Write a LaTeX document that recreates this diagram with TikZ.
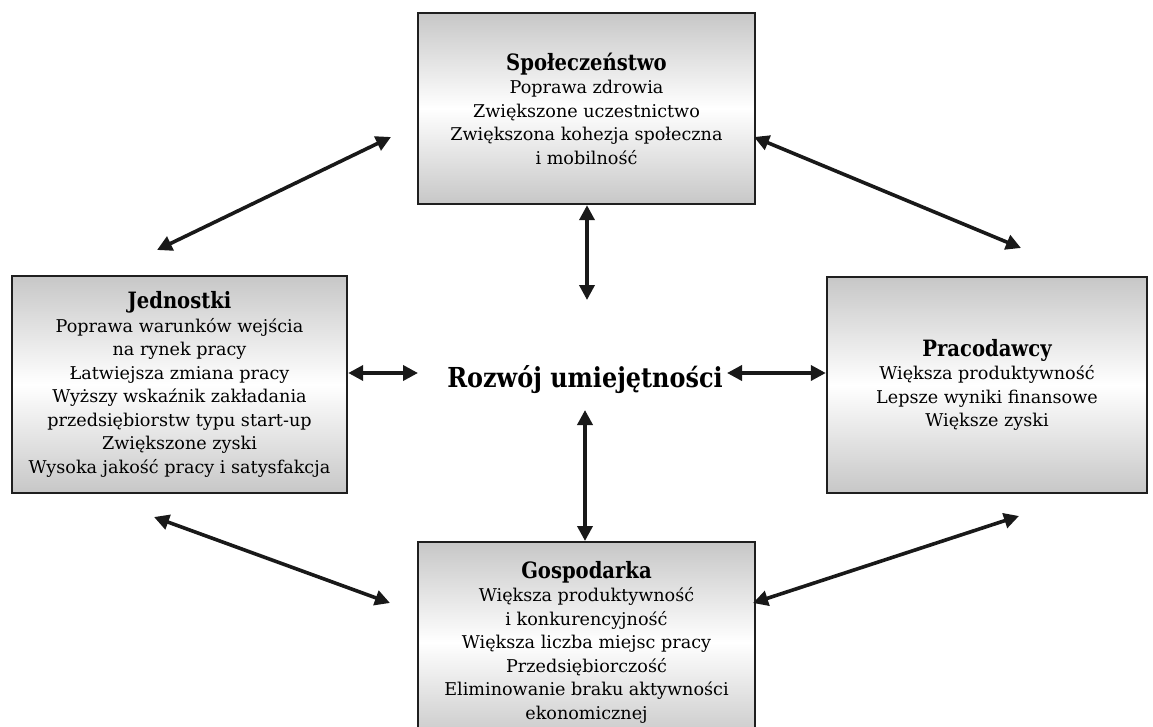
\documentclass[tikz,border=0pt]{standalone}
\usepackage{fontspec}
\setmainfont{DejaVu Serif}[BoldFeatures={FakeStretch=0.87}]
\usetikzlibrary{arrows.meta}
\begin{document}
\begin{tikzpicture}[x=1pt,y=-1pt,
  panel/.style={draw=black!88, line width=2.4pt, rectangle, inner sep=0pt,
    top color=black!22, bottom color=black!22, middle color=white,
    align=center, font=\fontsize{17.6}{23.5}\selectfont},
  link/.style={line width=3.6pt, draw=black!90,
    {Triangle[length=15pt,width=15pt]}-{Triangle[length=15pt,width=15pt]}}
]
\newcommand{\hd}[1]{{\bfseries\fontsize{22.5}{25}\selectfont #1}}
\useasboundingbox (0,0) rectangle (1153,727);
\begin{scope}
\clip (0,0) rectangle (1153,727);

\node[panel, minimum width=337pt, minimum height=191pt] (T) at (586.5,108.5)
  {\hd{Społeczeństwo}\\
   Poprawa zdrowia\\Zwiększone uczestnictwo\\Zwiększona kohezja społeczna\\i mobilność};

\node[panel, minimum width=335pt, minimum height=217pt] (L) at (179.5,384.5)
  {\hd{Jednostki}\\
   Poprawa warunków wejścia\\na rynek pracy\\Łatwiejsza zmiana pracy\\
   Wyższy wskaźnik zakładania\\przedsiębiorstw typu start-up\\
   Zwiększone zyski\\Wysoka jakość pracy i satysfakcja};

\node[panel, minimum width=320pt, minimum height=216pt] (R) at (987,385)
  {\hd{Pracodawcy}\\
   Większa produktywność\\Lepsze wyniki finansowe\\Większe zyski};

\node[panel, minimum width=337pt, minimum height=200pt, anchor=north] (B) at (586.5,541)
  {\hd{Gospodarka}\\
   Większa produktywność\\i konkurencyjność\\Większa liczba miejsc pracy\\
   Przedsiębiorczość\\Eliminowanie braku aktywności\\ekonomicznej};
\end{scope}

\node[font=\bfseries\fontsize{27.5}{30}\selectfont] (C) at (585,380) {Rozwój umiejętności};

% free ends of the connectors
\coordinate (tl1) at (157,250);  \coordinate (tl2) at (391,137);
\coordinate (tr1) at (754,137);  \coordinate (tr2) at (1021,248);
\coordinate (bl1) at (154,517);  \coordinate (bl2) at (390,603);
\coordinate (br1) at (753,603);  \coordinate (br2) at (1019,516);
\coordinate (cu) at (587,300);   \coordinate (cd) at (585,410);
\coordinate (cl) at (418,373);   \coordinate (cr) at (727,373);

\draw[link] (tl1) -- (tl2);
\draw[link] (tr1) -- (tr2);
\draw[link] (bl1) -- (bl2);
\draw[link] (br1) -- (br2);
\draw[link] (T.south -| cu) -- (cu);
\draw[link] (cd) -- (B.north -| cd);
\draw[link] (L.east |- cl) -- (cl);
\draw[link] (cr) -- (R.west |- cr);
\end{tikzpicture}
\end{document}
